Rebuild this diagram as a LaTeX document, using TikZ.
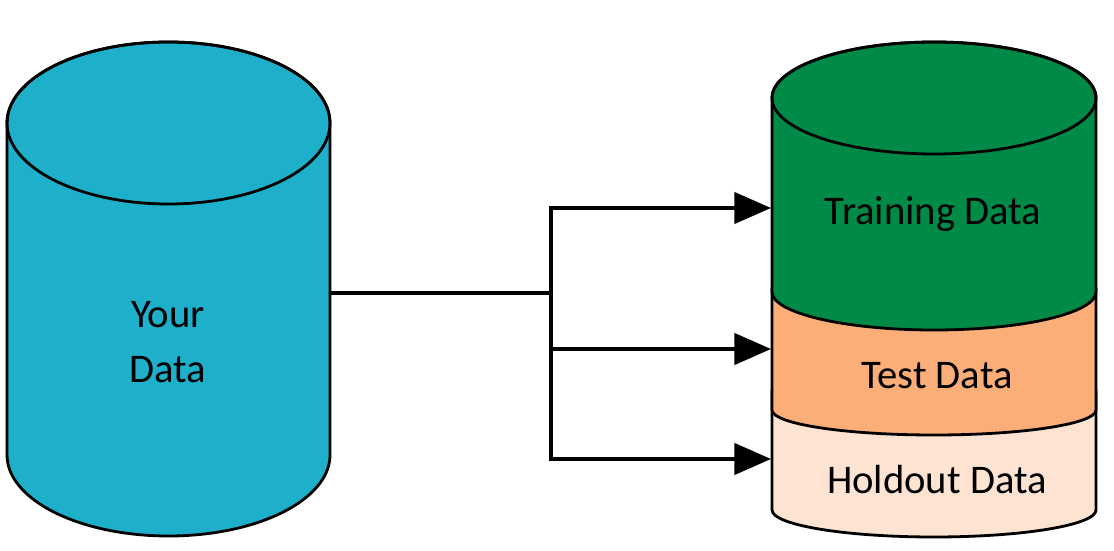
\documentclass[tikz,border=0pt]{standalone}
\usepackage{fontspec}
\setmainfont{Carlito}
\usetikzlibrary{arrows.meta}
\definecolor{cblue}{RGB}{30,175,203}
\definecolor{cgreen}{RGB}{0,138,71}
\definecolor{corange}{RGB}{252,174,120}
\definecolor{cpeach}{RGB}{253,228,210}
\tikzset{
  cyl/.style={draw=black, line width=2.1pt, line join=round},
  lbl/.style={font=\fontsize{30.5}{36}\selectfont, anchor=base, inner sep=0pt},
  conn/.style={draw=black, line width=2.5pt},
  arr/.style={conn, -{Triangle[length=27.5pt, width=23.5pt]}}
}
\begin{document}
\begin{tikzpicture}[x=0.75pt, y=0.75pt]
\useasboundingbox (0,0) rectangle (1114,550);
% left cylinder
\path[cyl, fill=cblue] (7,427) -- (7,95) arc[start angle=180, end angle=360, x radius=161.5, y radius=81] -- (330,427) arc[start angle=0, end angle=180, x radius=161.5, y radius=81] -- cycle;
\draw[cyl] (168.5,427) ellipse[x radius=161.5, y radius=81];
% right stacked cylinder
\path[cyl, fill=cpeach] (772,160) -- (772,40) arc[start angle=180, end angle=360, x radius=162, y radius=27] -- (1096,160) -- cycle;
\path[cyl, fill=corange] (772,262) -- (772,140) arc[start angle=180, end angle=360, x radius=162, y radius=25] -- (1096,262) -- cycle;
\path[cyl, fill=cgreen] (772,452) -- (772,258) arc[start angle=180, end angle=360, x radius=162, y radius=38] -- (1096,452) arc[start angle=0, end angle=180, x radius=162, y radius=56] -- cycle;
\draw[cyl] (934,452) ellipse[x radius=162, y radius=56];
% labels
\node[lbl] (your) at (168,222) {Your};
\node[lbl] (data) at (168,167) {Data};
\node[lbl] (train) at (933,325) {Training Data};
\node[lbl] (test) at (937,161) {Test Data};
\node[lbl] (hold) at (937,56) {Holdout Data};
% connectors
\coordinate (src) at (330,257);
\coordinate (split) at (551,257);
\coordinate (tTrain) at (771,342);
\coordinate (tTest) at (771,201);
\coordinate (tHold) at (771,91);
\draw[conn] (src) -- (split);
\draw[arr] (split) |- (tTrain);
\draw[arr] (split) |- (tTest);
\draw[arr] (split) |- (tHold);
\end{tikzpicture}
\end{document}
